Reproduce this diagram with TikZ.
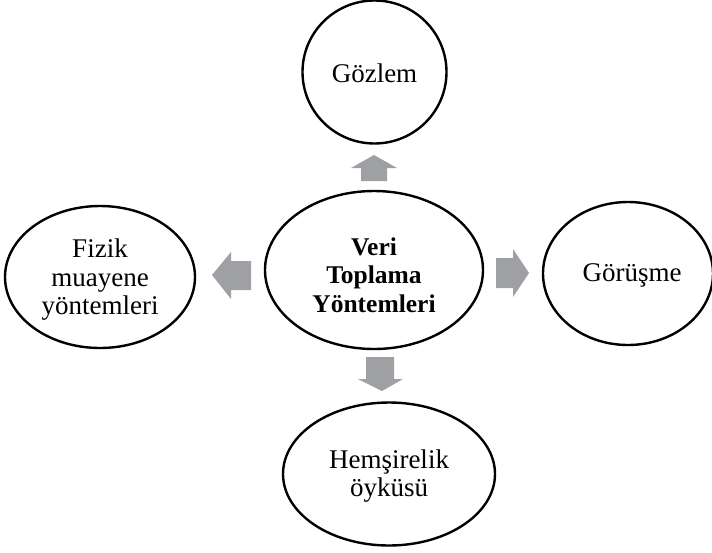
\documentclass[tikz,border=0pt]{standalone}
\usepackage{fontspec}
\setmainfont{Liberation Serif}
\usetikzlibrary{shapes.geometric}
\definecolor{arrowgray}{RGB}{158,160,163}
\tikzset{
  bubble/.style={draw=black, line width=2.4pt, ellipse, inner sep=0pt},
  lbl/.style={inner sep=0pt, align=center, font=\fontsize{27}{28.5}\selectfont},
  blockarrow/.style={fill=arrowgray, draw=none}
}
\begin{document}
\begin{tikzpicture}[x=1pt,y=-1pt]
\useasboundingbox (0,0) rectangle (712,552);
\node[bubble, minimum width=218pt, minimum height=158pt] (center) at (374,270) {};
\node[lbl, font=\fontsize{25.5}{28.5}\selectfont\bfseries] (centerlbl) at (374,275)
  {Veri\\Toplama\\Yöntemleri};
\node[bubble, minimum width=144pt, minimum height=143pt] (top) at (374.5,72) {};
\node[lbl] (toplbl) at (374.5,73) {Gözlem};
\node[bubble, minimum width=190pt, minimum height=142pt] (left) at (100,277) {};
\node[lbl] (leftlbl) at (100,280) {Fizik\\muayene\\yöntemleri};
\node[bubble, minimum width=170pt, minimum height=143pt] (right) at (628,273.5) {};
\node[lbl] (rightlbl) at (632,275) {Görüşme};
\node[bubble, minimum width=212pt, minimum height=143pt] (bottom) at (389,474) {};
\node[lbl] (bottomlbl) at (389,476) {Hemşirelik\\öyküsü};
% block arrows
\fill[blockarrow] (361,181) -- (361,168) -- (351,168) -- (374,155) -- (397,168) -- (387,168) -- (387,181) -- cycle;
\fill[blockarrow] (251,261) -- (231,261) -- (231,252) -- (212,275) -- (231,299) -- (231,290) -- (251,290) -- cycle;
\fill[blockarrow] (496,258) -- (513,258) -- (513,249) -- (529,273) -- (513,297) -- (513,288) -- (496,288) -- cycle;
\fill[blockarrow] (366,357) -- (394,357) -- (394,379) -- (403,379) -- (382,391) -- (358,379) -- (366,379) -- cycle;
\end{tikzpicture}
\end{document}
